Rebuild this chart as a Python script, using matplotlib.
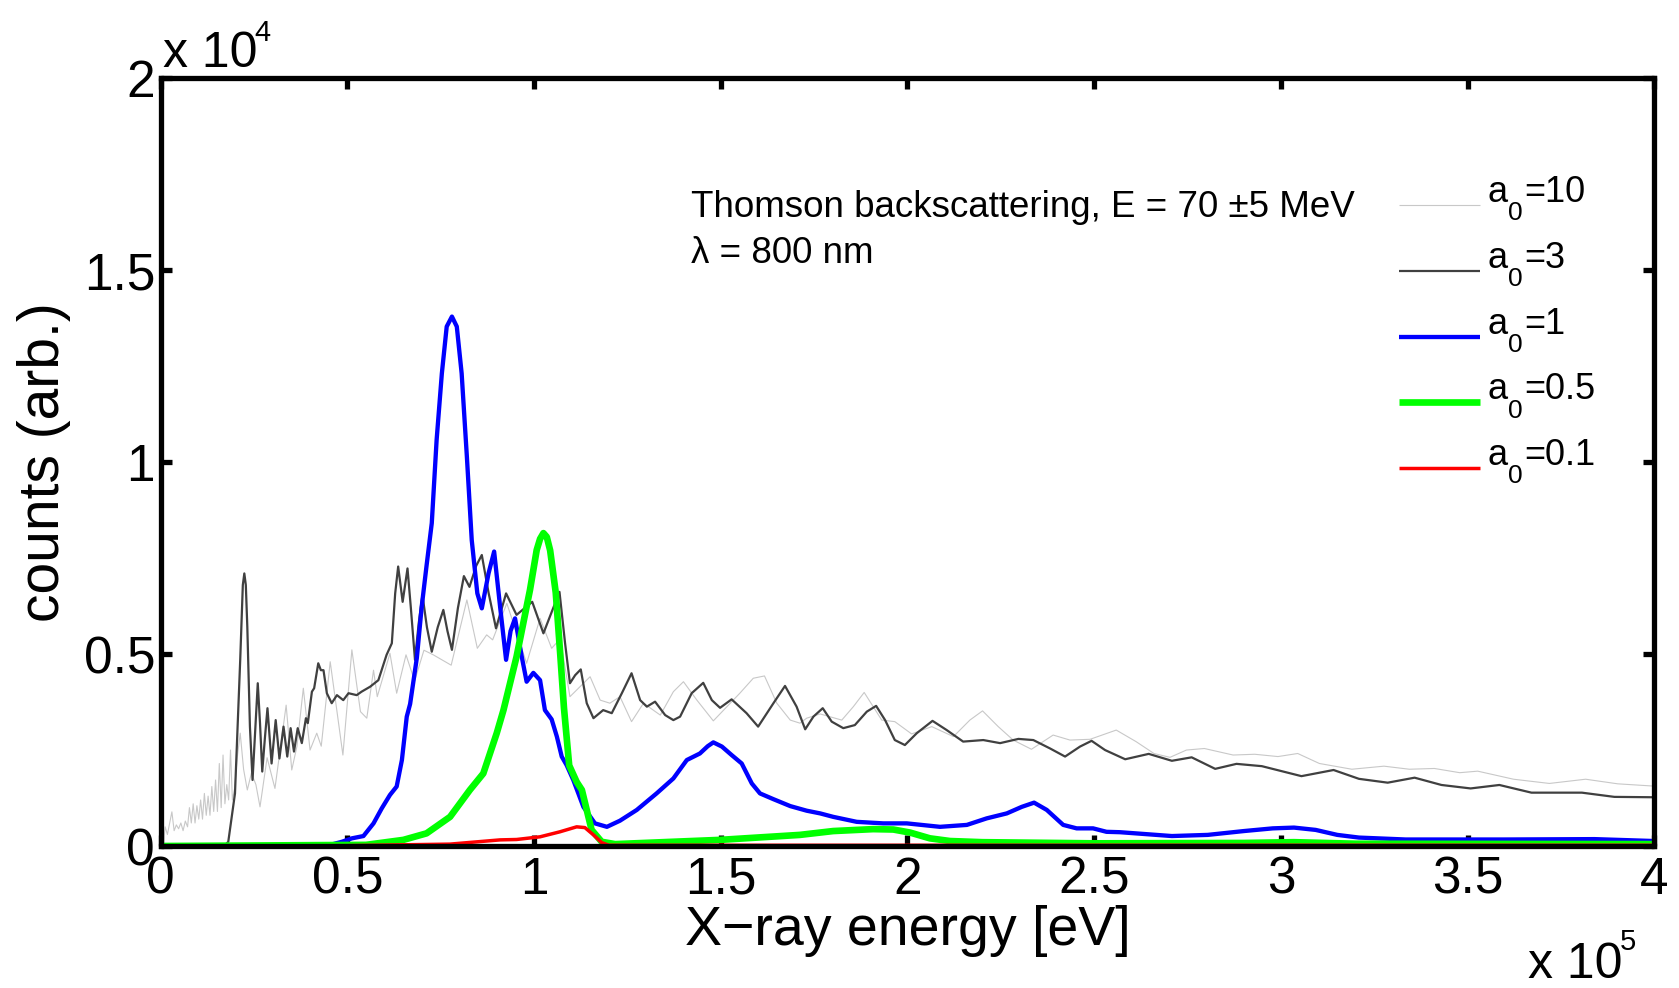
import numpy as np
import matplotlib
matplotlib.use("Agg")
import matplotlib.pyplot as plt
from matplotlib.lines import Line2D

plt.rcParams['font.family'] = ['Liberation Sans', 'DejaVu Sans']

# ---- data: energy in units of 1e5 eV, counts in units of 1e3 ----
a10_E = [0, 0.004, 0.008, 0.012, 0.018, 0.024, 0.03, 0.036, 0.042, 0.048, 0.054, 0.060, 0.066, 0.072,
         0.077, 0.082, 0.087, 0.092, 0.097, 0.102, 0.107, 0.112, 0.117, 0.122, 0.127, 0.132, 0.137, 0.142,
         0.147, 0.152, 0.157, 0.162, 0.167, 0.172, 0.177, 0.182, 0.187, 0.192, 0.198, 0.205, 0.213, 0.222,
         0.232, 0.243, 0.255, 0.266, 0.285, 0.306, 0.336, 0.351, 0.365, 0.382, 0.40, 0.418, 0.43, 0.454,
         0.488, 0.512, 0.535, 0.552, 0.570, 0.580, 0.614, 0.632, 0.657, 0.68, 0.705, 0.730, 0.778, 0.820,
         0.848, 0.873, 0.889, 0.927, 0.980, 1.016, 1.047, 1.07, 1.096, 1.150, 1.177, 1.203, 1.230, 1.261,
         1.293, 1.338, 1.373, 1.400, 1.436, 1.480, 1.551, 1.587, 1.617, 1.650, 1.686, 1.712, 1.730, 1.766,
         1.824, 1.855, 1.884, 1.908, 1.931, 1.966, 2.011, 2.065, 2.123, 2.167, 2.201, 2.243, 2.283, 2.332,
         2.390, 2.435, 2.489, 2.559, 2.612, 2.660, 2.703, 2.747, 2.795, 2.872, 2.930, 2.992, 3.045, 3.103,
         3.190, 3.276, 3.344, 3.411, 3.479, 3.527, 3.623, 3.719, 3.816, 3.902, 4.0]
a10_N = [0.1, 0.9, 0.1, 0.5, 0.3, 0.6, 0.89, 0.4, 0.55, 0.45, 0.6, 0.4, 0.65, 0.5,
         1.0, 0.6, 1.1, 0.6, 1.05, 0.7, 1.2, 0.7, 1.37, 0.8, 1.3, 0.8, 1.55, 0.9,
         1.72, 0.9, 2.15, 1.0, 2.37, 1.1, 1.6, 1.2, 2.5, 1.2, 1.5, 2.3, 2.94, 2.0,
         1.46, 1.9, 1.6, 1.02, 2.3, 1.50, 3.67, 1.98, 2.6, 4.11, 2.50, 2.94, 2.6, 4.80,
         2.37, 5.11, 3.5, 3.33, 4.58, 3.89, 5.02, 3.98, 4.98, 4.3, 5.1, 4.98, 4.71, 6.41,
         5.15, 5.50, 5.37, 6.32, 4.76, 5.93, 5.15, 5.4, 3.89, 4.41, 3.80, 3.72, 3.89, 3.24,
         3.72, 3.41, 4.02, 4.28, 3.80, 3.26, 3.98, 4.37, 4.43, 3.72, 3.28, 3.20, 3.33, 3.44,
         3.28, 3.63, 4.00, 3.63, 3.28, 3.24, 2.92, 3.11, 2.85, 3.28, 3.52, 3.11, 2.76, 2.52,
         2.89, 2.76, 2.78, 3.02, 2.72, 2.41, 2.31, 2.50, 2.54, 2.37, 2.39, 2.33, 2.41, 2.15,
         2.00, 2.08, 2.00, 2.02, 1.91, 1.95, 1.74, 1.63, 1.74, 1.62, 1.56]

a3_E = [0, 0.17, 0.181, 0.199, 0.213, 0.220, 0.224, 0.228, 0.232, 0.239, 0.246, 0.253, 0.260, 0.266,
        0.272, 0.279, 0.286, 0.297, 0.308, 0.318, 0.329, 0.339, 0.348, 0.357, 0.367, 0.378, 0.389, 0.394,
        0.405, 0.411, 0.422, 0.429, 0.436, 0.445, 0.458, 0.472, 0.489, 0.503, 0.525, 0.538, 0.561, 0.583,
        0.605, 0.619, 0.628, 0.636, 0.648, 0.661, 0.670, 0.681, 0.691, 0.701, 0.713, 0.726, 0.742, 0.757,
        0.768, 0.780, 0.796, 0.812, 0.827, 0.845, 0.860, 0.878, 0.898, 0.925, 0.953, 0.995, 1.025, 1.056,
        1.068, 1.083, 1.096, 1.110, 1.125, 1.141, 1.159, 1.185, 1.208, 1.235, 1.261, 1.284, 1.302, 1.324,
        1.351, 1.373, 1.391, 1.422, 1.453, 1.476, 1.498, 1.529, 1.569, 1.600, 1.641, 1.672, 1.703, 1.726,
        1.748, 1.773, 1.797, 1.828, 1.859, 1.891, 1.916, 1.940, 1.966, 1.993, 2.025, 2.067, 2.105, 2.149,
        2.203, 2.248, 2.297, 2.337, 2.382, 2.422, 2.462, 2.493, 2.529, 2.583, 2.646, 2.708, 2.761, 2.824,
        2.881, 2.949, 3.055, 3.141, 3.209, 3.286, 3.358, 3.430, 3.508, 3.585, 3.671, 3.806, 3.893, 4.0]
a3_N = [0, 0, 0.11, 1.37, 4.85, 6.8, 7.10, 6.8, 5.71, 3.11, 1.72, 3.0, 4.24, 3.2,
        1.94, 2.8, 3.59, 2.15, 3.28, 2.28, 3.11, 2.33, 3.07, 2.46, 3.07, 2.68, 3.33, 3.20,
        4.02, 4.11, 4.76, 4.58, 4.58, 3.98, 3.72, 3.93, 3.80, 3.98, 3.93, 4.02, 4.15, 4.32,
        4.98, 5.28, 6.58, 7.28, 6.36, 7.23, 6.2, 4.85, 5.8, 6.54, 5.7, 5.06, 5.7, 6.15,
        5.6, 5.11, 6.2, 7.03, 6.75, 7.3, 7.58, 6.6, 5.67, 6.58, 6.02, 6.36, 5.54, 6.32,
        6.62, 5.28, 4.24, 4.45, 4.60, 3.72, 3.33, 3.54, 3.46, 3.98, 4.50, 3.80, 3.63, 3.76,
        3.41, 3.28, 3.37, 3.98, 4.25, 3.80, 3.60, 3.82, 3.46, 3.11, 3.72, 4.17, 3.63, 3.04,
        3.37, 3.59, 3.24, 3.07, 3.15, 3.50, 3.65, 3.28, 2.76, 2.63, 2.94, 3.26, 3.02, 2.72,
        2.76, 2.68, 2.79, 2.76, 2.54, 2.33, 2.59, 2.74, 2.50, 2.26, 2.40, 2.22, 2.31, 2.01,
        2.14, 2.08, 1.82, 1.98, 1.75, 1.65, 1.78, 1.59, 1.50, 1.59, 1.39, 1.39, 1.28, 1.27]

a1_E = [0, 0.45, 0.485, 0.512, 0.543, 0.570, 0.592, 0.614, 0.632, 0.646, 0.659, 0.668, 0.686, 0.699,
        0.712, 0.726, 0.739, 0.753, 0.766, 0.780, 0.793, 0.806, 0.820, 0.833, 0.848, 0.860, 0.878, 0.893,
        0.909, 0.925, 0.937, 0.949, 0.967, 0.980, 0.998, 1.016, 1.029, 1.047, 1.061, 1.074, 1.087, 1.105,
        1.132, 1.163, 1.195, 1.230, 1.275, 1.328, 1.373, 1.409, 1.444, 1.465, 1.480, 1.503, 1.529, 1.556,
        1.583, 1.605, 1.641, 1.686, 1.730, 1.766, 1.801, 1.864, 1.935, 1.998, 2.087, 2.159, 2.212, 2.266,
        2.306, 2.339, 2.373, 2.417, 2.453, 2.497, 2.533, 2.569, 2.708, 2.804, 2.901, 2.978, 3.035, 3.093,
        3.151, 3.209, 3.334, 3.6, 3.84, 4.0]
a1_N = [0, 0.02, 0.11, 0.2, 0.26, 0.59, 0.98, 1.33, 1.55, 2.24, 3.37, 3.7, 4.9, 6.23,
        7.3, 8.41, 10.58, 12.31, 13.53, 13.79, 13.53, 12.31, 10.14, 7.97, 6.58, 6.19, 7.10, 7.67,
        6.23, 4.85, 5.6, 5.93, 4.93, 4.28, 4.51, 4.32, 3.54, 3.30, 2.85, 2.33, 2.11, 1.72,
        1.02, 0.59, 0.50, 0.66, 0.94, 1.37, 1.76, 2.24, 2.41, 2.6, 2.70, 2.59, 2.37, 2.15,
        1.63, 1.37, 1.22, 1.04, 0.92, 0.85, 0.76, 0.63, 0.59, 0.59, 0.50, 0.55, 0.72, 0.85,
        1.02, 1.13, 0.94, 0.55, 0.46, 0.46, 0.37, 0.36, 0.26, 0.29, 0.39, 0.46, 0.48, 0.42,
        0.29, 0.22, 0.17, 0.17, 0.18, 0.13]

a05_E = [0, 0.55, 0.650, 0.712, 0.775, 0.828, 0.864, 0.900, 0.918, 0.953, 0.989, 1.007, 1.016, 1.025,
         1.034, 1.043, 1.058, 1.070, 1.080, 1.094, 1.114, 1.128, 1.141, 1.154, 1.181, 1.217, 1.498, 1.712,
         1.801, 1.908, 1.962, 2.007, 2.060, 2.114, 2.2, 2.5, 2.9, 3.035, 3.2, 4.0]
a05_N = [0, 0.03, 0.16, 0.33, 0.76, 1.46, 1.89, 2.94, 3.54, 4.93, 6.67, 7.71, 8.0, 8.15,
         8.05, 7.7, 6.6, 5.0, 3.6, 2.1, 1.67, 1.46, 0.94, 0.42, 0.11, 0.05, 0.16, 0.29,
         0.39, 0.44, 0.43, 0.35, 0.20, 0.13, 0.1, 0.07, 0.08, 0.1, 0.06, 0.05]

a01_E = [0, 0.5, 0.775, 0.909, 0.953, 1.016, 1.069, 1.114, 1.136, 1.159, 1.181, 1.2, 4.0]
a01_N = [0, 0.01, 0.05, 0.16, 0.17, 0.24, 0.37, 0.50, 0.48, 0.29, 0.09, 0.02, 0.02]

series_sub = ['10', '3', '1', '0.5', '0.1']           # a_0 values for the legend
series_colors = ['#c8c8c8', '#404040', '#0000ff', '#00ff00', '#ff0000']
series_widths = [0.8, 1.6, 3.1, 4.8, 2.5]
series_E = [a10_E, a3_E, a1_E, a05_E, a01_E]
series_N = [a10_N, a3_N, a1_N, a05_N, a01_N]

x_ticks = [0, 0.5, 1, 1.5, 2, 2.5, 3, 3.5, 4]          # x 1e5
y_ticks = [0, 0.5, 1, 1.5, 2]                          # x 1e4

fig = plt.figure(figsize=(16.79, 9.88), dpi=100)
ax = fig.add_axes([0.0957, 0.1437, 0.9853 - 0.0957, 0.9209 - 0.1437])

for E, N, c, w in zip(series_E, series_N, series_colors, series_widths):
    ax.plot(np.array(E) * 1e5, np.array(N) * 1e3, color=c, lw=w,
            solid_joinstyle='round', solid_capstyle='butt')

ax.set_xlim(0, 4e5)
ax.set_ylim(0, 2e4)
ax.set_xticks(np.array(x_ticks) * 1e5)
ax.set_xticklabels(['%g' % t for t in x_ticks])
ax.set_yticks(np.array(y_ticks) * 1e4)
ax.set_yticklabels(['%g' % t for t in y_ticks])

for s in ax.spines.values():
    s.set_linewidth(3.8)
ax.tick_params(direction='in', length=8, width=3.8, labelsize=37, top=True, right=True)
ax.tick_params(axis='x', pad=7)
ax.tick_params(axis='y', pad=4)

ax.set_xlabel('X\u2212ray energy [eV]', fontsize=40, va='baseline')
ax.xaxis.set_label_coords(0.5, -0.129)
ax.set_ylabel('counts (arb.)', fontsize=41, va='baseline')
ax.yaxis.set_label_coords(-0.068, 0.5)

# axis multipliers
fig.text(0.097, 0.9317, 'x 10', fontsize=36, va='baseline', ha='left')
ax.annotate('4', xy=(0.097, 0.9317), xycoords='figure fraction', xytext=(66, 19),
            textcoords='offset points', fontsize=21, va='baseline', ha='left')
fig.text(0.9101, 0.0101, 'x 10', fontsize=36, va='baseline', ha='left')
ax.annotate('5', xy=(0.9101, 0.0101), xycoords='figure fraction', xytext=(66, 20),
            textcoords='offset points', fontsize=21, va='baseline', ha='left',
            annotation_clip=False)

ax.text(0.3549, 0.8187, 'Thomson backscattering, E = 70 \u00b15 MeV', transform=ax.transAxes,
        fontsize=26.5, va='baseline', ha='left')
ax.text(0.3549, 0.7588, '\u03bb = 800 nm', transform=ax.transAxes,
        fontsize=26.5, va='baseline', ha='left')

# legend (drawn in axes fraction, MATLAB-like low subscript)
leg_y = [0.8349, 0.7493, 0.6633, 0.5779, 0.4927]
for yy, sub, c, w in zip(leg_y, series_sub, series_colors, series_widths):
    ax.add_line(Line2D([0.8292, 0.8833], [yy, yy], transform=ax.transAxes, color=c, lw=w,
                       solid_capstyle='butt'))
    ax.annotate('a', xy=(0.8886, yy), xycoords='axes fraction', xytext=(0, 2),
                textcoords='offset points', fontsize=26, va='baseline', ha='left')
    ax.annotate('0', xy=(0.8886, yy), xycoords='axes fraction', xytext=(14.5, -11),
                textcoords='offset points', fontsize=19, va='baseline', ha='left')
    ax.annotate('=' + sub, xy=(0.8886, yy), xycoords='axes fraction', xytext=(25.8, 2),
                textcoords='offset points', fontsize=26, va='baseline', ha='left')

fig.savefig('out.png', dpi=100)
